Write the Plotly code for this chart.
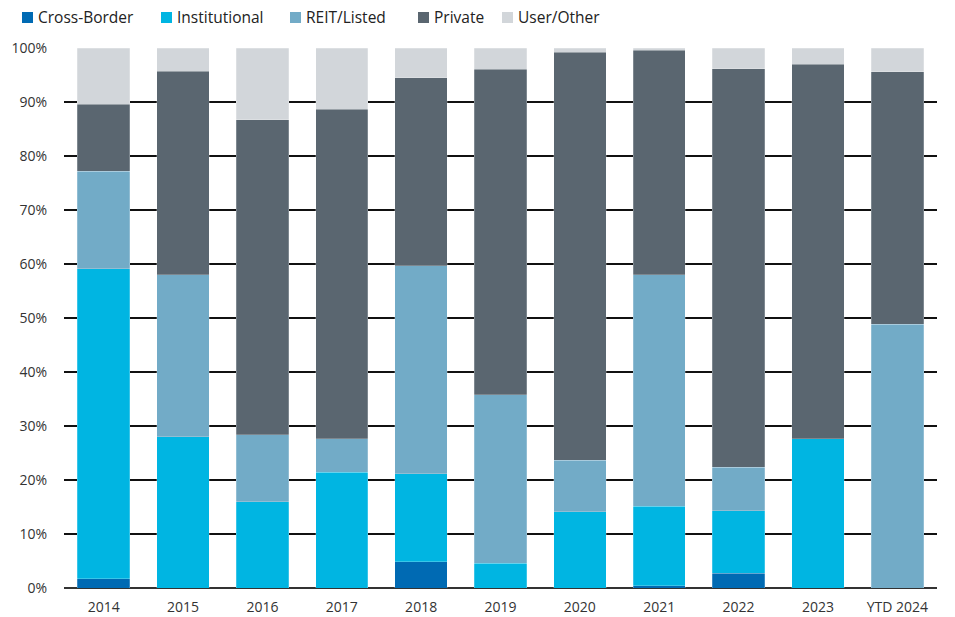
import plotly.graph_objects as go

years = ["2014", "2015", "2016", "2017", "2018", "2019", "2020", "2021", "2022", "2023", "YTD 2024"]

cross_border = [1.7, 0.0, 0.0, 0.0, 4.9, 0.0, 0.0, 0.4, 2.7, 0.0, 0.0]
institutional = [57.4, 28.0, 16.0, 21.4, 16.3, 4.6, 14.1, 14.7, 11.6, 27.6, 0.0]
reit_listed = [18.1, 30.0, 12.4, 6.2, 38.5, 31.2, 9.6, 42.9, 8.1, 0.0, 48.8]
private = [12.4, 37.7, 58.3, 61.1, 34.8, 60.3, 75.5, 41.6, 73.8, 69.4, 46.8]
user_other = [10.4, 4.3, 13.3, 11.3, 5.5, 3.9, 0.8, 0.4, 3.8, 3.0, 4.4]

series_names = ["Cross-Border", "Institutional", "REIT/Listed", "Private", "User/Other"]
series_values = [cross_border, institutional, reit_listed, private, user_other]
series_colors = ["#006AB3", "#00B5E2", "#72ABC7", "#5A6670", "#D2D6DA"]

# canvas and plot-area geometry (pixels)
W, H = 955, 617
ML, MR, MT, MB = 64, 18, 48, 29
PW, PH = W - ML - MR, H - MT - MB


def px_x(px):
    return (px - ML) / PW


def px_y(py):
    return (H - MB - py) / PH


fig = go.Figure()
for name, vals, color in zip(series_names, series_values, series_colors):
    fig.add_trace(go.Bar(
        name=name, x=years, y=vals,
        marker=dict(color=color, line=dict(color="rgba(255,255,255,0.45)", width=0.5)),
        showlegend=False,
    ))

# legend row across the top: colour square followed by its label
legend_left = [22, 161, 290, 418, 502]
shapes, annotations = [], []
for left, name, color in zip(legend_left, series_names, series_colors):
    shapes.append(dict(
        type="rect", xref="paper", yref="paper",
        x0=px_x(left), x1=px_x(left + 11), y0=px_y(23), y1=px_y(12),
        fillcolor=color, line=dict(width=0),
    ))
    annotations.append(dict(
        xref="paper", yref="paper", x=px_x(left + 14), y=px_y(17.5),
        xanchor="left", yanchor="middle", showarrow=False,
        text=name, font=dict(size=15.5, color="#222222"),
    ))

fig.update_layout(
    barmode="stack",
    bargap=0.34,
    width=W, height=H,
    margin=dict(l=ML, r=MR, t=MT, b=MB, pad=0),
    plot_bgcolor="white",
    paper_bgcolor="white",
    font=dict(family="Open Sans, Noto Sans, sans-serif", color="#333333", size=14),
    showlegend=False,
    shapes=shapes,
    annotations=annotations,
)

fig.update_xaxes(
    showgrid=False, showline=False, ticks="", automargin=False,
    ticklabelstandoff=9,
    tickfont=dict(size=14, color="#333333"),
)
fig.update_yaxes(
    range=[0, 100], tickvals=[0, 10, 20, 30, 40, 50, 60, 70, 80, 90, 100],
    ticktext=[f"{v}%" for v in range(0, 101, 10)],
    showgrid=True, gridcolor="#111111", gridwidth=1.5,
    zeroline=True, zerolinecolor="#333333", zerolinewidth=2,
    ticks="", ticklabelstandoff=16, automargin=False,
    tickfont=dict(size=14, color="#333333"),
)

fig.write_html("out.html")
